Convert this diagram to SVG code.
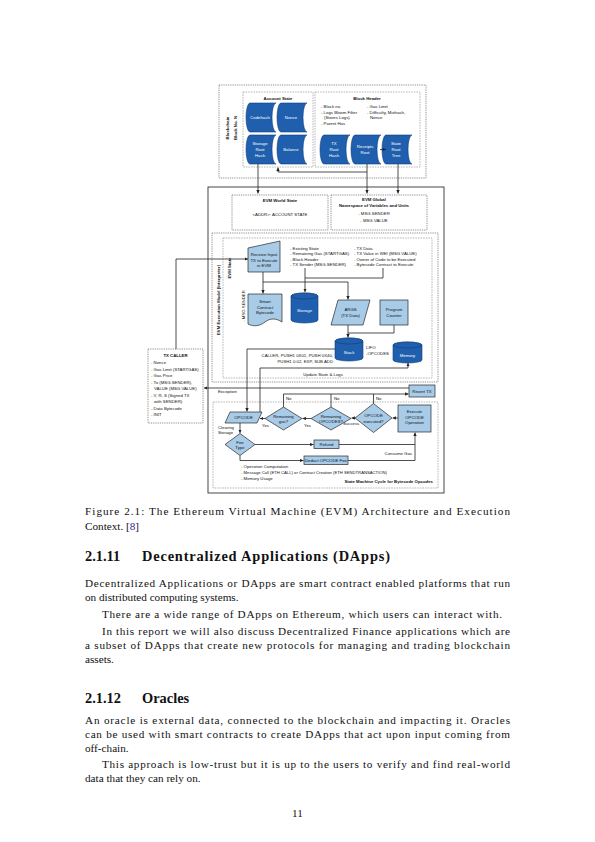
<svg xmlns="http://www.w3.org/2000/svg" width="595" height="842" viewBox="0 0 595 842">
<defs>
<style>
.dot{fill:none;stroke:#666;stroke-width:0.8;stroke-dasharray:0.9 0.9}
.dash{fill:none;stroke:#999;stroke-width:0.7;stroke-dasharray:1.6 1}
.ln{fill:none;stroke:#222;stroke-width:0.8}
.ar{marker-end:url(#ah)}
.lb{fill:#a8cbe8;stroke:#2a2a2a;stroke-width:0.7}
.db{fill:#1f5fae;stroke:#0e3f7c;stroke-width:0.6}
.t{font-family:"Liberation Sans",Arial,sans-serif;font-size:4.3px;fill:#111}
.b{font-weight:bold}
.c{text-anchor:middle}
.e{text-anchor:end}
.w{fill:#fff}
.p{font-family:"Liberation Serif","Times New Roman",serif;font-size:11.2px;fill:#111}
.h{font-family:"Liberation Serif","Times New Roman",serif;font-size:14.4px;font-weight:bold;fill:#111}
</style>
<marker id="ah" viewBox="0 0 6 6" refX="6" refY="3" markerWidth="3.4" markerHeight="3.4" markerUnits="userSpaceOnUse" orient="auto">
<path d="M0,0 L6,3 L0,6 z" fill="#222"/>
</marker>
</defs>
<rect width="595" height="842" fill="#fff"/>

<g id="blockchain">
<rect x="219" y="85" width="207" height="93" class="dot"/>
<text transform="translate(228.5,128) rotate(-90)" class="t b c">Blockchain</text>
<text transform="translate(236.5,128) rotate(-90)" class="t b c">Block No. N</text>
</g>
<g id="account-state">
<rect x="243" y="92" width="70" height="75" class="dash"/>
<text x="278" y="99.5" class="t b c">Account State</text>
</g>
<g id="codehash">
<path class="db" d="M250,103 H276 A4,14.5 0 0 0 276,132 H250 A4,14.5 0 0 1 250,103 Z"/>
<text x="260" y="119" class="t w c">Codehash</text>
</g>
<g id="nonce">
<path class="db" d="M281,103 H307 A4,14.5 0 0 0 307,132 H281 A4,14.5 0 0 1 281,103 Z"/>
<text x="291" y="119" class="t w c">Nonce</text>
</g>
<g id="storage-root-hash">
<path class="db" d="M250,135 H276 A4,14.5 0 0 0 276,164 H250 A4,14.5 0 0 1 250,135 Z"/>
<text x="260" y="145" class="t w c">Storage</text>
<text x="260" y="151" class="t w c">Root</text>
<text x="260" y="157" class="t w c">Hash</text>
</g>
<g id="balance">
<path class="db" d="M281,135 H307 A4,14.5 0 0 0 307,164 H281 A4,14.5 0 0 1 281,135 Z"/>
<text x="291" y="151" class="t w c">Balance</text>
</g>
<g id="block-header">
<rect x="315" y="92" width="105" height="75" class="dash"/>
<text x="367" y="99.5" class="t b c">Block Header</text>
<text x="321" y="108" class="t">- Block no.</text>
<text x="321" y="113.5" class="t">- Logs Bloom Filter</text>
<text x="324" y="119" class="t">(Stores Logs)</text>
<text x="321" y="124.5" class="t">- Parent Has</text>
<text x="367" y="108" class="t">- Gas Limit</text>
<text x="367" y="113.5" class="t">- Difficulty, Mixhash,</text>
<text x="370" y="119" class="t">Nonce</text>
</g>
<g id="tx-root-hash">
<path class="db" d="M324,135 H350 A4,14.5 0 0 0 350,164 H324 A4,14.5 0 0 1 324,135 Z"/>
<text x="334" y="145" class="t w c">TX</text>
<text x="334" y="151" class="t w c">Root</text>
<text x="334" y="157" class="t w c">Hash</text>
</g>
<g id="receipts-root">
<path class="db" d="M355,135 H381 A4,14.5 0 0 0 381,164 H355 A4,14.5 0 0 1 355,135 Z"/>
<text x="365" y="148" class="t w c">Receipts</text>
<text x="365" y="154" class="t w c">Root</text>
</g>
<g id="state-root-tree">
<path class="db" d="M386,135 H412 A4,14.5 0 0 0 412,164 H386 A4,14.5 0 0 1 386,135 Z"/>
<text x="396" y="145" class="t w c">State</text>
<text x="396" y="151" class="t w c">Root</text>
<text x="396" y="157" class="t w c">Tree</text>
</g>

<g id="evm">
<rect x="208" y="187" width="236" height="306" fill="none" stroke="#333" stroke-width="0.9"/>
</g>
<g id="evm-world-state">
<rect x="232" y="195" width="96" height="35" class="dot"/>
<text x="280" y="202" class="t b c">EVM World State</text>
<text x="280" y="216" class="t c">&lt;ADDR&gt;: ACCOUNT STATE</text>
</g>
<g id="evm-global">
<rect x="331" y="195" width="96" height="35" class="dot"/>
<text x="374" y="201" class="t b c">EVM Global</text>
<text x="374" y="207" class="t b c">Namespace of Variables and Units</text>
<text x="374" y="215" class="t c">- MSG.SENDER</text>
<text x="374" y="222" class="t c">- MSG.VALUE</text>
</g>
<g id="evm-execution-model">
<rect x="212" y="233" width="226" height="149" class="dot"/>
<text transform="translate(219.5,300) rotate(-90)" class="t b c">EVM Execution Model (Interpreter)</text>
</g>
<g id="evm-state">
<rect x="223" y="238" width="209" height="140" class="dash"/>
<text transform="translate(231,268) rotate(-90)" class="t b c">EVM State</text>
<text transform="translate(244.5,306) rotate(-90)" class="t c">- MSG.SENDER</text>
<text x="290" y="249.5" class="t">- Existing State</text>
<text x="290" y="255" class="t">- Remaining Gas (STARTGAS)</text>
<text x="290" y="260.5" class="t">- Block Header</text>
<text x="290" y="266" class="t">- TX Sender (MSG.SENDER)</text>
<text x="354" y="249.5" class="t">- TX Data</text>
<text x="354" y="255" class="t">- TX Value in WEI (MSG.VALUE)</text>
<text x="354" y="260.5" class="t">- Owner of Code to be Executed</text>
<text x="354" y="266" class="t">- Bytecode Contract to Execute</text>
<text x="333" y="357" class="t e">CALLER, PUSH1 0X01, PUSH 0X40,</text>
<text x="333" y="362.5" class="t e">PUSH1 0.02, EXP, SUB ADD</text>
<text x="366" y="349" class="t">LIFO</text>
<text x="366" y="354.5" class="t">-OPCODES</text>
<text x="323" y="375.5" class="t c">Update State &amp; Logs</text>
</g>
<g id="receive-input">
<polygon class="lb" points="248,248 280,241 280,272 248,272"/>
<text x="264" y="256" class="t c">Receive Input</text>
<text x="264" y="261.5" class="t c">TX to Execute</text>
<text x="264" y="267" class="t c">in EVM</text>
</g>
<g id="smart-contract-bytecode">
<path class="lb" d="M248,294 H282 V322 C276,318 270,318 265,322 C260,326 254,327 248,324 Z"/>
<text x="265" y="303" class="t c">Smart</text>
<text x="265" y="308.5" class="t c">Contract</text>
<text x="265" y="314" class="t c">Bytecode</text>
</g>
<g id="storage">
<path class="db" d="M291,296 A13.5,3 0 0 1 318,296 V320 A13.5,3 0 0 1 291,320 Z"/>
<ellipse cx="304.5" cy="296" rx="13.5" ry="3" fill="none" stroke="#0e3f7c" stroke-width="0.6"/>
<text x="304.5" y="312" class="t w c">Storage</text>
</g>
<g id="args">
<polygon class="lb" points="338,300 370,300 363,325 331,325"/>
<text x="350.5" y="311" class="t c">ARGS</text>
<text x="350.5" y="316.5" class="t c">(TX Data)</text>
</g>
<g id="program-counter">
<rect x="380" y="300" width="28" height="25" class="lb"/>
<text x="394" y="311" class="t c">Program</text>
<text x="394" y="316.5" class="t c">Counter</text>
</g>
<g id="stack">
<path class="db" d="M335,341 A14,3 0 0 1 363,341 V358 A14,3 0 0 1 335,358 Z"/>
<ellipse cx="349" cy="341" rx="14" ry="3" fill="none" stroke="#0e3f7c" stroke-width="0.6"/>
<text x="349" y="354" class="t w c">Stack</text>
</g>
<g id="memory">
<path class="db" d="M393,345 A14.5,3 0 0 1 422,345 V360 A14.5,3 0 0 1 393,360 Z"/>
<ellipse cx="407.5" cy="345" rx="14.5" ry="3" fill="none" stroke="#0e3f7c" stroke-width="0.6"/>
<text x="407.5" y="357" class="t w c">Memory</text>
</g>

<g id="tx-caller">
<rect x="148" y="349" width="55" height="74" class="dot"/>
<text x="175.5" y="356.5" class="t b c">TX CALLER</text>
<text x="151" y="364" class="t">- Nonce</text>
<text x="151" y="370.5" class="t">- Gas Limit (STARTGAS)</text>
<text x="151" y="377" class="t">- Gas Price</text>
<text x="151" y="383.5" class="t">- To (MSG.SENDER),</text>
<text x="154" y="390" class="t">VALUE (MSG.VALUE)</text>
<text x="151" y="396.5" class="t">- V, R, S (Signed TX</text>
<text x="154" y="403" class="t">with SENDER)</text>
<text x="151" y="409.5" class="t">- Data Bytecode</text>
<text x="151" y="416" class="t">- INIT</text>
</g>

<g id="state-machine">
<rect x="213" y="402" width="225" height="86" class="dash"/>
<text x="218" y="393" class="t">Exception</text>
<text x="218" y="428.5" class="t">Clearing</text>
<text x="218" y="434" class="t">Storage</text>
<text x="262" y="426.5" class="t">Yes</text>
<text x="304" y="426.5" class="t">Yes</text>
<text x="343" y="425" class="t">Success</text>
<text x="286" y="400" class="t">No</text>
<text x="334" y="400" class="t">No</text>
<text x="376" y="400" class="t">No</text>
<text x="412" y="454.5" class="t e">Consume Gas</text>
<text x="241" y="467.5" class="t">- Operation Computation</text>
<text x="241" y="473.5" class="t" textLength="146" lengthAdjust="spacingAndGlyphs">- Message Call (ETH CALL) or Contract Creation (ETH SENDTRANSACTION)</text>
<text x="241" y="479.5" class="t">- Memory Usage</text>
<text x="433" y="482.5" class="t b e">State Machine Cycle for Bytecode Opcodes</text>
</g>
<g id="revert-tx">
<rect x="409" y="385" width="26" height="12" class="lb"/>
<text x="422" y="392.5" class="t c">Revert TX</text>
</g>
<g id="opcode">
<polygon class="lb" points="230,412 262,412 257,423 225,423"/>
<text x="243.5" y="419" class="t c">OPCODE</text>
</g>
<g id="remaining-gas">
<polygon class="lb" points="265,418.5 283.5,407 302,418.5 283.5,430"/>
<text x="283.5" y="417.5" class="t c">Remaining</text>
<text x="283.5" y="423" class="t c">gas?</text>
</g>
<g id="remaining-opcodes">
<polygon class="lb" points="311,418.5 331,407 351,418.5 331,430"/>
<text x="331" y="417.5" class="t c">Remaining</text>
<text x="331" y="423" class="t c">OPCODES?</text>
</g>
<g id="opcode-executed">
<polygon class="lb" points="355,418 373.5,403.5 392,418 373.5,432.5"/>
<text x="373.5" y="417" class="t c">OPCODE</text>
<text x="373.5" y="422.5" class="t c">executed?</text>
</g>
<g id="execute-opcode">
<rect x="398" y="405" width="33" height="27" class="lb"/>
<text x="414.5" y="413" class="t c">Execute</text>
<text x="414.5" y="418.5" class="t c">OPCODE</text>
<text x="414.5" y="424" class="t c">Operation</text>
</g>
<g id="fee-type">
<polygon class="lb" points="225,444.5 240,433.5 255,444.5 240,455.5"/>
<text x="240" y="443.5" class="t c">Fee</text>
<text x="240" y="449" class="t c">Type</text>
</g>
<g id="refund">
<rect x="314" y="440" width="25" height="8.5" class="lb"/>
<text x="326.5" y="445.8" class="t c">Refund</text>
</g>
<g id="deduct-fee">
<rect x="304" y="456" width="44" height="8.5" class="lb"/>
<text x="326" y="461.8" class="t c">Deduct OPCODE Fee</text>
</g>

<g id="connectors">
<path class="ln ar" d="M380,149.5 H386"/>
<path class="ln ar" d="M258,164 V193.5"/>
<path class="ln ar" d="M367,164 V193.5"/>
<path class="ln ar" d="M367,172 H278 V167.5"/>
<path class="ln ar" d="M398,164 V193.5"/>
<path class="ln ar" d="M176,349 V259 H248"/>
<path class="ln ar" d="M263,272 V293.5"/>
<path class="ln ar" d="M263,282 H348 V299.5"/>
<path class="ln ar" d="M305,268 V292"/>
<path class="ln" d="M383,268 V278 H305"/>
<path class="ln ar" d="M348,325 V337.5"/>
<path class="ln" d="M394,325 V333 H348"/>
<path class="ln ar" d="M335,349 H247 V411.5"/>
<path class="ln ar" d="M260,412 V368 H408 V363"/>
<path class="ln ar" d="M409,388 H204"/>
<path class="ln ar" d="M283.5,407 V394 H408.5"/>
<path class="ln" d="M331,407 V394"/>
<path class="ln" d="M373.5,403.5 V394"/>
<path class="ln ar" d="M398,418 H392.5"/>
<path class="ln ar" d="M355,418 H351.5"/>
<path class="ln ar" d="M311,418.5 H302.5"/>
<path class="ln ar" d="M265,418.5 H260"/>
<path class="ln ar" d="M240,423 V433"/>
<path class="ln ar" d="M255,444.5 H313.5"/>
<path class="ln" d="M339,444.5 H415"/>
<path class="ln ar" d="M240,455.5 V460.5 H303.5"/>
<path class="ln ar" d="M348,460.5 H415 V432.5"/>
</g>

<g id="page-text">
<text x="85" y="514.5" class="p" textLength="425" lengthAdjust="spacing">Figure 2.1:  The Ethereum Virtual Machine (EVM) Architecture and Execution</text>
<text x="85" y="529.5" class="p">Context. [<tspan fill="#2a2aa0">8</tspan>]</text>
<text x="85" y="561" class="h">2.1.11</text>
<text x="142" y="561" class="h" textLength="248" lengthAdjust="spacing">Decentralized Applications (DApps)</text>
<text x="85" y="587" class="p" textLength="425" lengthAdjust="spacing">Decentralized Applications or DApps are smart contract enabled platforms that run</text>
<text x="85" y="601" class="p">on distributed computing systems.</text>
<text x="102" y="618" class="p" textLength="400" lengthAdjust="spacing">There are a wide range of DApps on Ethereum, which users can interact with.</text>
<text x="102" y="635" class="p" textLength="408" lengthAdjust="spacing">In this report we will also discuss Decentralized Finance applications which are</text>
<text x="85" y="649" class="p" textLength="425" lengthAdjust="spacing">a subset of DApps that create new protocols for managing and trading blockchain</text>
<text x="85" y="663" class="p">assets.</text>
<text x="85" y="702.5" class="h">2.1.12</text>
<text x="142" y="702.5" class="h">Oracles</text>
<text x="85" y="723.5" class="p" textLength="425" lengthAdjust="spacing">An oracle is external data, connected to the blockchain and impacting it.  Oracles</text>
<text x="85" y="737.5" class="p" textLength="425" lengthAdjust="spacing">can be used with smart contracts to create DApps that act upon input coming from</text>
<text x="85" y="751.5" class="p">off-chain.</text>
<text x="102" y="768" class="p" textLength="408" lengthAdjust="spacing">This approach is low-trust but it is up to the users to verify and find real-world</text>
<text x="85" y="782" class="p">data that they can rely on.</text>
<text x="297.5" y="816.5" class="p" text-anchor="middle">11</text>
</g>
</svg>
